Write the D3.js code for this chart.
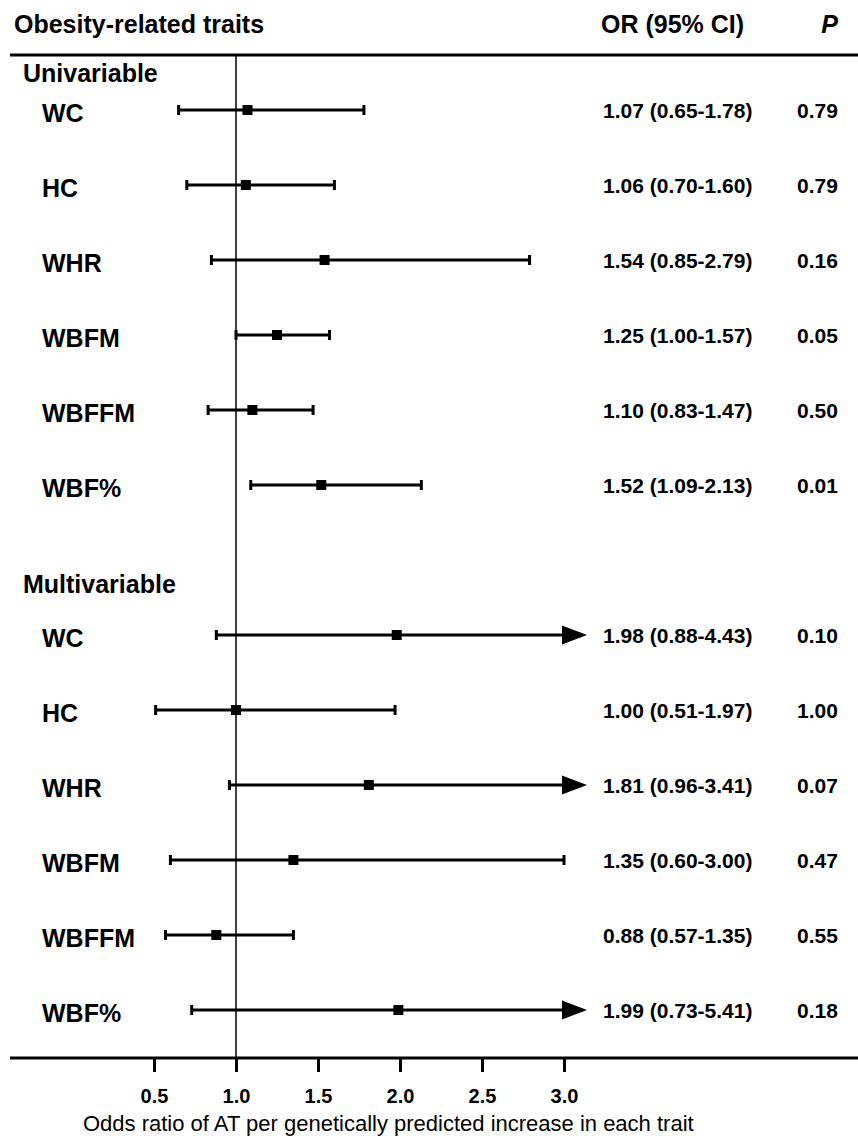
<!DOCTYPE html>
<html>
<head>
<meta charset="utf-8">
<script src="https://cdn.jsdelivr.net/npm/d3@7"></script>
<style>
  body { margin: 0; background: #fff; }
  svg { display: block; font-family: Arial, "Liberation Sans", sans-serif; }
</style>
</head>
<body>
<div id="graph"></div>
<script>

// Chart data
let groups = ["Univariable", "Multivariable"];
let traits = ["WC", "HC", "WHR", "WBFM", "WBFFM", "WBF%"];

let uni_or = [1.07, 1.06, 1.54, 1.25, 1.10, 1.52];
let uni_lo = [0.65, 0.70, 0.85, 1.00, 0.83, 1.09];
let uni_hi = [1.78, 1.60, 2.79, 1.57, 1.47, 2.13];
let uni_p  = ["0.79", "0.79", "0.16", "0.05", "0.50", "0.01"];

let multi_or = [1.98, 1.00, 1.81, 1.35, 0.88, 1.99];
let multi_lo = [0.88, 0.51, 0.96, 0.60, 0.57, 0.73];
let multi_hi = [4.43, 1.97, 3.41, 3.00, 1.35, 5.41];
let multi_p  = ["0.10", "1.00", "0.07", "0.47", "0.55", "0.18"];

let tick_values = [0.5, 1.0, 1.5, 2.0, 2.5, 3.0];
let axis_title = "Odds ratio of AT per genetically predicted increase in each trait";

draw_forest();

/**
 * Builds the row list and draws the whole forest plot.
 */
function draw_forest() {

  let width = 858;
  let height = 1136;

  // Rows: 6 univariable, one blank slot, 6 multivariable
  let rows = [];
  traits.forEach(function(t, i) {
    rows.push({trait: t, or: uni_or[i], lo: uni_lo[i], hi: uni_hi[i], p: uni_p[i], slot: i});
  });
  traits.forEach(function(t, i) {
    rows.push({trait: t, or: multi_or[i], lo: multi_lo[i], hi: multi_hi[i], p: multi_p[i], slot: i + 7});
  });

  let x = d3.scaleLinear()
            .domain([0.5, 3.0])
            .range([154, 564]);

  let y = d3.scaleLinear()
            .domain([0, 12])
            .range([110, 1010]);

  let top_y = 55;
  let axis_y = 1058;
  let x_max = x.domain()[1];

  let chart = d3.select("#graph")
                .append("svg")
                .attr("width", width)
                .attr("height", height);

  // Header
  let header = chart.append("g")
                    .attr("font-weight", "bold")
                    .attr("font-size", 25);

  header.append("text").attr("x", 14).attr("y", 33).text("Obesity-related traits");
  header.append("text").attr("x", 601).attr("y", 33).text("OR (95% CI)");
  header.append("text").attr("x", 838).attr("y", 33)
        .attr("text-anchor", "end")
        .attr("font-style", "italic")
        .text("P");

  chart.append("line")
       .attr("x1", 10).attr("x2", width)
       .attr("y1", top_y).attr("y2", top_y)
       .attr("stroke", "#000")
       .attr("stroke-width", 3);

  // Reference line at OR = 1
  chart.append("line")
       .attr("x1", x(1)).attr("x2", x(1))
       .attr("y1", top_y).attr("y2", axis_y)
       .attr("stroke", "#000")
       .attr("stroke-width", 1.5);

  // Group labels
  chart.selectAll(".group")
       .data(groups)
       .enter().append("text")
       .attr("class", "group")
       .attr("x", 23)
       .attr("y", function(d, i) { return i === 0 ? 82 : 593; })
       .attr("font-size", 25)
       .attr("font-weight", "bold")
       .text(function(d) { return d; });

  let row = chart.selectAll(".row")
                 .data(rows)
                 .enter().append("g")
                 .attr("class", "row")
                 .attr("transform", function(d) { return "translate(0," + y(d.slot) + ")"; });

  // Trait labels
  row.append("text")
     .attr("x", 42)
     .attr("y", 12)
     .attr("font-size", 25)
     .attr("font-weight", "bold")
     .text(function(d) { return d.trait; });

  // CI line (clipped at axis max)
  row.append("line")
     .attr("x1", function(d) { return x(d.lo); })
     .attr("x2", function(d) { return x(Math.min(d.hi, x_max)); })
     .attr("stroke", "#000")
     .attr("stroke-width", 3);

  // Lower cap
  row.append("line")
     .attr("x1", function(d) { return x(d.lo); })
     .attr("x2", function(d) { return x(d.lo); })
     .attr("y1", -5).attr("y2", 5)
     .attr("stroke", "#000")
     .attr("stroke-width", 3);

  // Upper cap, or arrow when the CI runs off the axis
  row.filter(function(d) { return d.hi <= x_max; })
     .append("line")
     .attr("x1", function(d) { return x(d.hi); })
     .attr("x2", function(d) { return x(d.hi); })
     .attr("y1", -5).attr("y2", 5)
     .attr("stroke", "#000")
     .attr("stroke-width", 3);

  row.filter(function(d) { return d.hi > x_max; })
     .append("polygon")
     .attr("points", function() {
        let bx = x(x_max) - 2;
        return [[bx, -9.5], [bx + 25, 0], [bx, 9.5]].map(function(p) { return p.join(","); }).join(" ");
     })
     .attr("fill", "#000");

  // Point estimate
  row.append("rect")
     .attr("x", function(d) { return x(d.or) - 5; })
     .attr("y", -5)
     .attr("width", 10)
     .attr("height", 10)
     .attr("fill", "#000");

  // OR (95% CI) and P columns
  row.append("text")
     .attr("x", 603)
     .attr("y", 8)
     .attr("font-size", 21)
     .attr("font-weight", "bold")
     .text(function(d) { return d.or.toFixed(2) + " (" + d.lo.toFixed(2) + "-" + d.hi.toFixed(2) + ")"; });

  row.append("text")
     .attr("x", 797)
     .attr("y", 8)
     .attr("font-size", 21)
     .attr("font-weight", "bold")
     .text(function(d) { return d.p; });

  // Bottom axis
  chart.append("line")
       .attr("x1", 10).attr("x2", width)
       .attr("y1", axis_y).attr("y2", axis_y)
       .attr("stroke", "#000")
       .attr("stroke-width", 3);

  let axis = chart.append("g")
                  .attr("transform", "translate(0," + axis_y + ")")
                  .call(d3.axisBottom(x)
                          .tickValues(tick_values)
                          .tickSize(14)
                          .tickPadding(17)
                          .tickFormat(d3.format(".1f")));

  axis.select(".domain").remove();
  axis.selectAll(".tick line").attr("stroke-width", 3);
  axis.selectAll(".tick text")
      .attr("font-family", "Arial, 'Liberation Sans', sans-serif")
      .attr("font-size", 20)
      .attr("font-weight", "bold")
      .attr("fill", "#000");

  chart.append("text")
       .attr("x", 83)
       .attr("y", 1131)
       .attr("font-size", 22)
       .text(axis_title);
}
</script>
</body>
</html>
